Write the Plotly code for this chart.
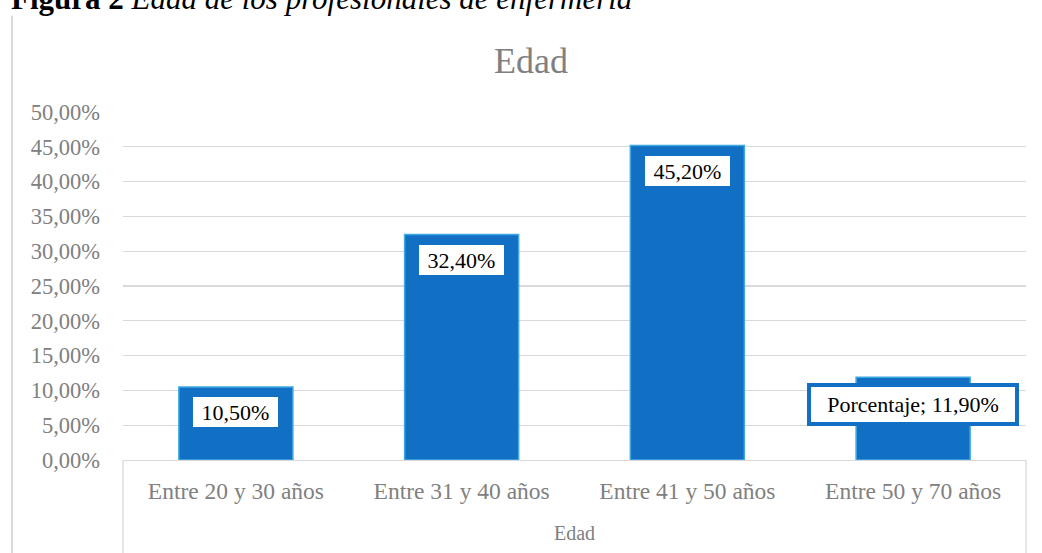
import plotly.graph_objects as go

# ---- data ----
categories = ["Entre 20 y 30 años", "Entre 31 y 40 años", "Entre 41 y 50 años", "Entre 50 y 70 años"]
porcentaje = [0.105, 0.324, 0.452, 0.119]
label_texts = ["10,50%", "32,40%", "45,20%", "Porcentaje; 11,90%"]
y_ticks = [0.0, 0.05, 0.10, 0.15, 0.20, 0.25, 0.30, 0.35, 0.40, 0.45, 0.50]
chart_title = "Edad"
axis_title = "Edad"
caption = "<b>Figura 2</b> <i>Edad de los profesionales de enfermería</i>"

# ---- geometry (pixels) ----
W, H = 1042, 553
L, R, T, B = 123, 1026, 112, 463
PW, PH = R - L, B - T


def px_x(px):
    return (px - L) / PW


def px_y(py):
    return (B - py) / PH


GRAY = "#808080"
GRID = "#d9d9d9"
BLUE = "#1170c4"
BLUE_EDGE = "#3ea8e2"
FONT = "Liberation Serif"

fig = go.Figure()
fig.add_trace(go.Bar(
    x=categories, y=porcentaje,
    marker=dict(color=BLUE, line=dict(color=BLUE_EDGE, width=1.5)),
    width=0.505, hoverinfo="skip",
))

# data labels
for i, (c, v, t) in enumerate(zip(categories, porcentaje, label_texts)):
    last = i == len(categories) - 1
    fig.add_annotation(
        x=c, y=v, xref="x", yref="y", text=t, showarrow=False,
        yanchor="middle", xanchor="center", yshift=-27 if last else -25.5,
        font=dict(family=FONT, size=22, color="black"),
        bgcolor="white",
        bordercolor=BLUE if last else "rgba(0,0,0,0)",
        borderwidth=4 if last else 0, borderpad=0,
        width=204 if last else 85, height=35 if last else 30,
    )

# caption (partially cut at top)
fig.add_annotation(
    x=px_x(9), y=px_y(17), xref="paper", yref="paper", text=caption,
    showarrow=False, xanchor="left", yanchor="bottom",
    font=dict(family=FONT, size=31, color="black"),
)

shapes = [
    # outer chart border (left side)
    dict(type="line", xref="paper", yref="paper", x0=px_x(12), x1=px_x(12),
         y0=px_y(15), y1=px_y(H + 5), line=dict(color=GRID, width=2)),
    # multi-level category separators
    dict(type="line", xref="paper", yref="paper", x0=0, x1=0,
         y0=0, y1=px_y(H + 5), line=dict(color=GRID, width=1.3)),
    dict(type="line", xref="paper", yref="paper", x0=1, x1=1,
         y0=0, y1=px_y(H + 5), line=dict(color=GRID, width=1.3)),
]

fig.update_layout(
    width=W, height=H,
    margin=dict(l=L, r=W - R, t=T, b=H - B, pad=0),
    paper_bgcolor="white", plot_bgcolor="white",
    separators=",.",
    showlegend=False,
    bargap=0.495,
    shapes=shapes,
    title=dict(text=chart_title, x=531 / W, xref="container", xanchor="center",
               y=1 - 60 / H, yref="container", yanchor="middle",
               font=dict(family=FONT, size=36, color=GRAY)),
    font=dict(family=FONT, color=GRAY),
)

fig.update_yaxes(
    range=[0, 0.5], tickvals=y_ticks, tickformat=".2%",
    showgrid=True, gridcolor=GRID, gridwidth=1.3,
    zeroline=False, showline=False,
    ticks="", ticklabelstandoff=22,
    tickfont=dict(family=FONT, size=22.5, color=GRAY),
)
fig.update_xaxes(
    showline=True, linecolor=GRID, linewidth=1.3,
    showgrid=False, ticks="", ticklabelstandoff=9,
    tickfont=dict(family=FONT, size=23.5, color=GRAY),
    title=dict(text=axis_title, standoff=23,
               font=dict(family=FONT, size=20, color=GRAY)),
)

fig.write_html(
    "out.html",
    config={"displayModeBar": False, "staticPlot": True},
    post_script="document.body.style.margin='0';document.body.style.overflow='hidden';",
)
